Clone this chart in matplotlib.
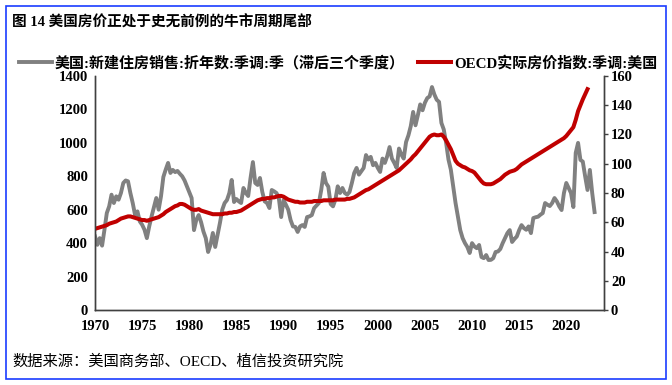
import numpy as np
import matplotlib.pyplot as plt
from matplotlib.lines import Line2D
from matplotlib.patches import Rectangle

plt.rcParams['font.family'] = ['Liberation Serif', 'Noto Sans CJK SC']

# 美国新建住房销售（千套，折年数，已滞后三个季度），1970Q1 起按季度
sales = [
    440, 390, 430, 385,  480, 580, 620, 690,  640, 680, 660, 700,  760, 775, 770, 700,   # 1970-73
    640, 568, 590, 530,  510, 480, 430, 500,  560, 616, 670, 600,  680, 796, 840, 880,   # 1974-77
    820, 838, 825, 832,  815, 800, 775, 740,  706, 670, 478, 540,  568, 526, 470, 430,   # 1978-81
    347, 390, 461, 377,  450, 520, 600, 640,  658, 700, 778, 646,  664, 650, 640, 730,   # 1982-85
    700, 682, 790, 885,  760, 748, 790, 706,  650, 640, 610, 718,  710, 700, 670, 556,   # 1986-89
    658, 630, 600, 538,  500, 497, 467, 500,  508, 497, 556, 560,  568, 610, 625, 640,   # 1990-93
    718, 820, 760, 738,  634, 620, 660, 740,  700, 730, 700, 690,  706, 760, 820, 850,   # 1994-97
    810, 830, 850, 927,  900, 916, 866, 880,  850, 826, 906, 880,  920, 975, 906, 880,   # 1998-01
    850, 966, 930, 906,  1005, 1045, 1100, 1185,  1105, 1165, 1230, 1195,  1240, 1268, 1278, 1334,  # 2002-05
    1290, 1258, 1245, 1119,  1080, 1000, 900, 840,  740, 640, 560, 478,  430, 400, 377, 341,  # 2006-09
    400, 380, 370, 389,  317, 310, 329, 299,  300, 310, 347, 350,  365, 400, 430, 460,   # 2010-13
    478, 407, 425, 440,  478, 508, 490, 480,  500, 460, 550, 555,  558, 570, 580, 640,   # 2014-17
    630, 622, 640, 670,  650, 620, 598, 700,  760, 730, 700, 616,  940, 1000, 898, 888,  # 2018-21
    800, 718, 838, 700,  586,                                                            # 2022-23
]

# OECD 实际房价指数（季调，美国），1970Q1 起按季度
hpi = [
    55.5, 56, 56.5, 57,  57.5, 58, 59, 59.5,  60, 60.5, 61.5, 62.5,  63, 63.5, 64, 64,
    63.5, 63, 62.5, 62,  61.5, 61.5, 61, 61.5,  62, 62.5, 63, 63.5,  64.5, 65.5, 67, 68,
    69, 70, 71, 71.5,  72.5, 72.5, 72, 71,  70, 69, 68.5, 68.5,  69, 68, 67.5, 67,
    66.5, 66, 65.5, 65.5,  65.5, 65.5, 65.5, 66,  66, 66.5, 66.5, 67,  67, 67.5, 68, 69,
    70, 71, 72, 73,  74, 75, 75.5, 76,  76, 76.5, 76.5, 77,  77, 77.5, 78, 78,
    77.5, 76.5, 75.5, 75,  74.5, 74, 74, 73.5,  73.5, 73.5, 74, 74,  74, 74.5, 74.5, 74.5,
    74.5, 75, 75, 75,  75, 75, 75.5, 75.5,  75.5, 75.5, 75.5, 76,  76, 76.5, 77, 78,
    79, 80, 81, 82,  82.5, 83.5, 84.5, 85.5,  86.5, 87.5, 88.5, 89.5,  90.5, 91.5, 92.5, 93.5,
    94.5, 95.5, 97, 98.5,  100, 101.5, 103, 105,  106.5, 108.5, 110.5, 112.5,  114.5, 116.5, 118.5, 119.5,
    120, 119.5, 119.5, 120,  118.5, 116, 113, 110,  106, 102, 100, 99,  98, 97.5, 96.5, 95.5,
    95, 94, 92, 90,  88, 86.5, 86, 86,  86, 86.5, 87.5, 88.5,  89.5, 91, 92.5, 93.5,
    94.5, 95, 95.5, 96.5,  98, 99.5, 100.5, 101.5,  102.5, 103.5, 104.5, 105.5,  106.5, 107.5, 108.5, 109.5,
    110.5, 111.5, 112.5, 113.5,  114.5, 115.5, 116.5, 117.5,  119, 121, 123, 125,  130, 136, 140, 144,
    147.5, 151,
]

t_sales = 1970 + np.arange(len(sales)) / 4
t_hpi = 1970 + np.arange(len(hpi)) / 4

year_ticks = list(range(1970, 2021, 5))
label_sales = '美国:新建住房销售:折年数:季调:季（滞后三个季度）'
label_hpi = 'OECD实际房价指数:季调:美国'

fig = plt.figure(figsize=(6.72, 3.85), dpi=100)
ax = fig.add_axes([0.1414, 0.1948, 0.7574, 0.6078])
ax2 = ax.twinx()

ax.plot(t_sales, sales, color='#808080', lw=2.8)
ax2.plot(t_hpi, hpi, color='#C00000', lw=2.9)

ax.set_xlim(1970, 2024)
ax.set_ylim(0, 1400)
ax2.set_ylim(0, 160)
ax.set_yticks(range(0, 1401, 200))
ax2.set_yticks(range(0, 161, 20))
ax.set_xticks(year_ticks)

for lab in ax.get_xticklabels() + ax.get_yticklabels() + ax2.get_yticklabels():
    lab.set_fontsize(10.5)
    lab.set_fontweight('bold')
ax.tick_params(axis='x', length=0, pad=7)
ax.tick_params(axis='y', length=0, pad=5)
ax2.tick_params(axis='y', length=3, width=1, pad=2, color='#404040')

for a in (ax, ax2):
    a.spines['top'].set_visible(False)
    for s in ('left', 'right', 'bottom'):
        a.spines[s].set_color('#404040')
        a.spines[s].set_linewidth(1.0)

handles = [Line2D([], [], color='#808080', lw=2.8), Line2D([], [], color='#C00000', lw=2.9)]
fig.legend(handles, [label_sales, label_hpi], loc='center', bbox_to_anchor=(0.503, 1 - 63 / 385),
           ncol=2, frameon=False, handlelength=2.2, handletextpad=0.2, columnspacing=0.9,
           prop=dict(family=['Liberation Serif', 'Noto Sans CJK SC'], size=10.8, weight='bold'))

fig.text(0.018, 1 - 22 / 385, '图 14 美国房价正处于史无前例的牛市周期尾部', fontsize=10.5,
         fontweight='bold', va='center', ha='left')
fig.text(0.018, 1 - 362 / 385, '数据来源：美国商务部、OECD、植信投资研究院', fontsize=11,
         va='center', ha='left')

fig.patches.append(Rectangle((6 / 672, 1 - 379 / 385), 660 / 672, 373 / 385, transform=fig.transFigure,
                             fill=False, edgecolor='#1A3CFF', lw=1.2))

fig.savefig('out.png', dpi=100)
